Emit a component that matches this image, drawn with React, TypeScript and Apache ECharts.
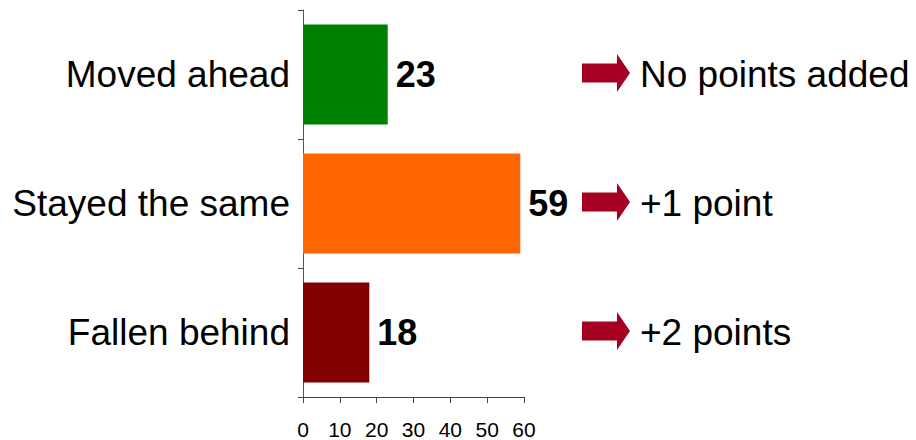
import React, { useEffect, useRef } from "react";
import * as echarts from "echarts";

// Share of pupils by progress band, with the points rule for each band
const categories = ["Moved ahead", "Stayed the same", "Fallen behind"];
const values = [23, 59, 18];
const barColors = ["#008000", "#FF6600", "#800000"];
const pointRules = ["No points added", "+1 point", "+2 points"];
const xTicks = { min: 0, max: 60, interval: 10 };

const FONT = "'Liberation Sans', Arial, Helvetica, sans-serif";
const ARROW_COLOR = "#A50021";

export default function App() {
  const ref = useRef<HTMLDivElement>(null);

  useEffect(() => {
    if (!ref.current) return;
    const chart = echarts.init(ref.current, undefined, { renderer: "svg" });

    const grid = { left: 303, right: 392, top: 10, bottom: 43 };

    chart.setOption({
      animation: false,
      grid,
      xAxis: {
        type: "value",
        min: xTicks.min,
        max: xTicks.max,
        interval: xTicks.interval,
        splitLine: { show: false },
        axisLine: { show: true, lineStyle: { color: "#444", width: 1 } },
        axisTick: { show: true, length: 6, lineStyle: { color: "#444" } },
        axisLabel: {
          margin: 22,
          fontSize: 21,
          color: "#000",
          fontFamily: FONT,
        },
      },
      yAxis: {
        type: "category",
        data: categories,
        inverse: true,
        axisLine: { show: true, lineStyle: { color: "#555", width: 1 } },
        axisTick: { show: true, length: 5, lineStyle: { color: "#444" } },
        axisLabel: {
          margin: 13,
          fontSize: 37,
          color: "#000",
          fontFamily: FONT,
        },
      },
      series: [
        {
          type: "bar",
          barWidth: 100,
          data: values.map((v, i) => ({ value: v, itemStyle: { color: barColors[i] } })),
          label: {
            show: true,
            position: "right",
            distance: 8,
            fontSize: 36,
            fontWeight: "bold",
            color: "#000",
            fontFamily: FONT,
          },
        },
      ],
    });

    // Arrows and point rules to the right of each bar row
    const graphics: any[] = [];
    categories.forEach((c, i) => {
      const y = (chart.convertToPixel({ yAxisIndex: 0 }, c) as number) - 1.5;
      const x0 = 582;
      const xHead = 617;
      const xTip = 630;
      graphics.push({
        type: "polygon",
        shape: {
          points: [
            [x0, y - 9.5],
            [xHead, y - 9.5],
            [xHead, y - 19],
            [xTip, y],
            [xHead, y + 19],
            [xHead, y + 9.5],
            [x0, y + 9.5],
          ],
        },
        style: { fill: ARROW_COLOR },
      });
      graphics.push({
        type: "text",
        x: 640,
        y: y + 1.5,
        style: {
          text: pointRules[i],
          fontSize: 37,
          fontFamily: FONT,
          fill: "#000",
          verticalAlign: "middle",
          align: "left",
        },
      });
    });
    chart.setOption({ graphic: graphics });

    return () => chart.dispose();
  }, []);

  return <div ref={ref} style={{ width: 916, height: 440, position: "absolute", left: 0, top: 0 }} />;
}
